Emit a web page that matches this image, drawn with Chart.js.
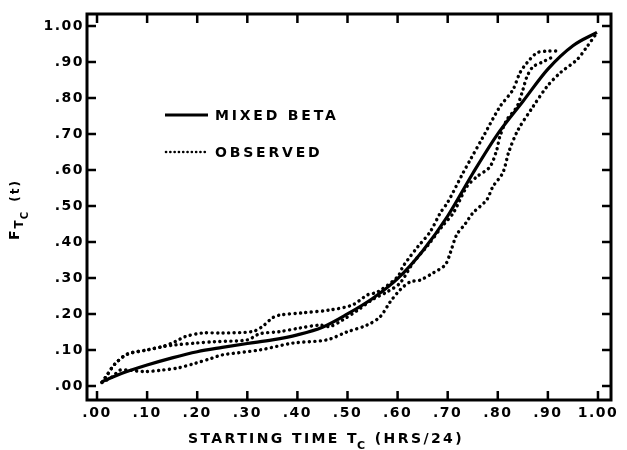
<!DOCTYPE html>
<html>
<head>
<meta charset="utf-8">
<script src="https://cdn.jsdelivr.net/npm/chart.js@4.4.1/dist/chart.umd.min.js"></script>
<style>
  html, body { margin: 0; padding: 0; background: #fff; }
  canvas { display: block; }
</style>
</head>
<body>
<canvas id="c" width="627" height="450"></canvas>
<script>
// ---- data ----
const tickValues = [0, 0.1, 0.2, 0.3, 0.4, 0.5, 0.6, 0.7, 0.8, 0.9, 1.0];

const betaX = [0.01, 0.05, 0.10, 0.15, 0.20, 0.25, 0.30, 0.35, 0.40, 0.45, 0.50, 0.55, 0.60, 0.65, 0.70, 0.75, 0.80, 0.85, 0.90, 0.95, 0.998];
const betaY = [0.012, 0.035, 0.058, 0.078, 0.095, 0.107, 0.118, 0.128, 0.142, 0.163, 0.200, 0.243, 0.298, 0.375, 0.472, 0.590, 0.700, 0.790, 0.880, 0.945, 0.982];

const obsAX = [0.01, 0.02, 0.035, 0.06, 0.10, 0.13, 0.156, 0.176, 0.21, 0.25, 0.31, 0.33, 0.35, 0.365, 0.41, 0.465, 0.51, 0.54, 0.56, 0.60, 0.61, 0.62, 0.64, 0.665, 0.685, 0.70, 0.73, 0.745, 0.77, 0.804, 0.83, 0.844, 0.858, 0.878, 0.90, 0.92];
const obsAY = [0.01, 0.03, 0.06, 0.088, 0.10, 0.109, 0.123, 0.137, 0.147, 0.147, 0.151, 0.165, 0.189, 0.197, 0.203, 0.211, 0.225, 0.253, 0.261, 0.303, 0.330, 0.350, 0.386, 0.428, 0.480, 0.510, 0.590, 0.628, 0.690, 0.775, 0.822, 0.869, 0.897, 0.925, 0.930, 0.930];

const obsBX = [0.01, 0.02, 0.035, 0.06, 0.10, 0.13, 0.156, 0.196, 0.235, 0.30, 0.325, 0.365, 0.405, 0.445, 0.465, 0.49, 0.52, 0.55, 0.58, 0.605, 0.631, 0.66, 0.69, 0.711, 0.738, 0.758, 0.784, 0.798, 0.804, 0.818, 0.838, 0.85, 0.858, 0.87, 0.89, 0.91];
const obsBY = [0.01, 0.03, 0.06, 0.088, 0.10, 0.109, 0.114, 0.119, 0.123, 0.128, 0.145, 0.151, 0.161, 0.169, 0.165, 0.183, 0.210, 0.240, 0.262, 0.286, 0.342, 0.390, 0.445, 0.480, 0.553, 0.581, 0.608, 0.656, 0.692, 0.739, 0.775, 0.822, 0.858, 0.886, 0.900, 0.914];

const obsCX = [0.01, 0.03, 0.046, 0.062, 0.096, 0.129, 0.162, 0.196, 0.229, 0.249, 0.325, 0.391, 0.459, 0.499, 0.539, 0.565, 0.585, 0.605, 0.625, 0.645, 0.671, 0.695, 0.705, 0.718, 0.735, 0.75, 0.778, 0.79, 0.81, 0.822, 0.84, 0.87, 0.898, 0.924, 0.958, 0.978, 0.998];
const obsCY = [0.01, 0.025, 0.044, 0.044, 0.040, 0.044, 0.050, 0.063, 0.077, 0.086, 0.100, 0.119, 0.128, 0.150, 0.169, 0.192, 0.233, 0.267, 0.289, 0.294, 0.314, 0.336, 0.369, 0.420, 0.450, 0.480, 0.517, 0.553, 0.592, 0.650, 0.710, 0.775, 0.831, 0.869, 0.906, 0.942, 0.981];

const legendLabels = ["MIXED BETA", "OBSERVED"];
const xTitleParts = ["STARTING TIME T", "C", " (HRS/24)"];
const yTitleParts = ["F", "T", "C", " (t)"];

// ---- helpers ----
const pts = (xs, ys) => xs.map((x, i) => ({ x: x, y: ys[i] }));
const fmt = v => (Math.abs(v - 1) < 1e-9 ? "1.00" : "." + String(Math.round(v * 100)).padStart(2, "0"));
const FONT = "'DejaVu Sans', sans-serif";
const DOT = [0.1, 5.4];

const dotted = {
  borderColor: "#000", borderWidth: 3.4, borderDash: DOT, borderCapStyle: "round",
  pointRadius: 0, showLine: true, fill: false, tension: 0.3
};

const framePlugin = {
  id: "frame",
  beforeDraw(chart) {
    chart.ctx.letterSpacing = "1.5px";
  },
  beforeDatasetsDraw(chart) {
    chart.ctx.letterSpacing = "0px";
  },
  afterDraw(chart) {
    const ctx = chart.ctx;
    const a = chart.chartArea;
    const xs = chart.scales.x, ys = chart.scales.y;
    ctx.save();
    ctx.letterSpacing = "0px";
    ctx.strokeStyle = "#000";
    ctx.lineWidth = 3;
    ctx.strokeRect(a.left, a.top, a.right - a.left, a.bottom - a.top);
    ctx.lineWidth = 2.5;
    const L = 9;
    ctx.beginPath();
    tickValues.forEach(v => {
      const px = xs.getPixelForValue(v);
      ctx.moveTo(px, a.bottom); ctx.lineTo(px, a.bottom - L);
      ctx.moveTo(px, a.top); ctx.lineTo(px, a.top + L);
      const py = ys.getPixelForValue(v);
      ctx.moveTo(a.left, py); ctx.lineTo(a.left + L, py);
      ctx.moveTo(a.right, py); ctx.lineTo(a.right - L, py);
    });
    ctx.stroke();

    // legend
    ctx.lineWidth = 3;
    ctx.setLineDash([]);
    ctx.beginPath(); ctx.moveTo(165, 115); ctx.lineTo(208, 115); ctx.stroke();
    ctx.lineCap = "round";
    ctx.lineWidth = 2.6;
    ctx.setLineDash([0.1, 4.2]);
    ctx.beginPath(); ctx.moveTo(166, 152); ctx.lineTo(208, 152); ctx.stroke();
    ctx.setLineDash([]);
    ctx.fillStyle = "#000";
    ctx.font = "bold 14px " + FONT;
    ctx.letterSpacing = "2.8px";
    ctx.textBaseline = "middle";
    ctx.textAlign = "left";
    ctx.fillText(legendLabels[0], 215, 116);
    ctx.fillText(legendLabels[1], 215, 153);

    // x title
    ctx.letterSpacing = "2.4px";
    let x = 188;
    const by = 443;
    ctx.textBaseline = "alphabetic";
    ctx.font = "bold 14px " + FONT;
    ctx.fillText(xTitleParts[0], x, by);
    x += ctx.measureText(xTitleParts[0]).width - 2;
    ctx.font = "bold 11px " + FONT;
    ctx.fillText(xTitleParts[1], x, by + 6);
    x += ctx.measureText(xTitleParts[1]).width;
    ctx.font = "bold 14px " + FONT;
    ctx.fillText(xTitleParts[2], x, by);

    // y title (rotated)
    ctx.save();
    ctx.translate(19, 240);
    ctx.rotate(-Math.PI / 2);
    ctx.letterSpacing = "2px";
    let t = 0;
    ctx.font = "bold 14px " + FONT;
    ctx.fillText(yTitleParts[0], t, 0);
    t += ctx.measureText(yTitleParts[0]).width;
    ctx.font = "bold 12px " + FONT;
    ctx.fillText(yTitleParts[1], t, 4);
    t += ctx.measureText(yTitleParts[1]).width - 1;
    ctx.font = "bold 10px " + FONT;
    ctx.fillText(yTitleParts[2], t, 9);
    t += ctx.measureText(yTitleParts[2]).width + 2;
    ctx.font = "bold 12px " + FONT;
    ctx.fillText(yTitleParts[3], t, 0);
    ctx.restore();

    ctx.restore();
  }
};

new Chart(document.getElementById("c"), {
  type: "scatter",
  data: {
    datasets: [
      { label: "MIXED BETA", data: pts(betaX, betaY), borderColor: "#000", borderWidth: 3.2,
        pointRadius: 0, showLine: true, fill: false, tension: 0.4, cubicInterpolationMode: "monotone" },
      Object.assign({ label: "OBSERVED", data: pts(obsAX, obsAY) }, dotted),
      Object.assign({ label: "OBSERVED 2", data: pts(obsBX, obsBY) }, dotted),
      Object.assign({ label: "OBSERVED 3", data: pts(obsCX, obsCY) }, dotted)
    ]
  },
  options: {
    responsive: false,
    animation: false,
    devicePixelRatio: 1,
    layout: { padding: { top: 14, right: 16, bottom: 0, left: 0 } },
    plugins: { legend: { display: false }, tooltip: { enabled: false } },
    scales: {
      x: {
        type: "linear", min: -0.02, max: 1.026,
        grid: { display: false, drawTicks: false },
        border: { display: false },
        afterBuildTicks: s => { s.ticks = tickValues.map(v => ({ value: v })); },
        afterFit: s => { s.height = 50; },
        ticks: { color: "#000", padding: 5, maxRotation: 0, autoSkip: false,
                 font: { family: FONT, size: 14, weight: "bold" }, callback: v => fmt(v) }
      },
      y: {
        type: "linear", min: -0.039, max: 1.033,
        grid: { display: false, drawTicks: false },
        border: { display: false },
        afterBuildTicks: s => { s.ticks = tickValues.map(v => ({ value: v })); },
        afterFit: s => { s.width = 87; },
        ticks: { color: "#000", padding: 3, autoSkip: false,
                 font: { family: FONT, size: 14, weight: "bold" }, callback: v => fmt(v) }
      }
    }
  },
  plugins: [framePlugin]
});
</script>
</body>
</html>
